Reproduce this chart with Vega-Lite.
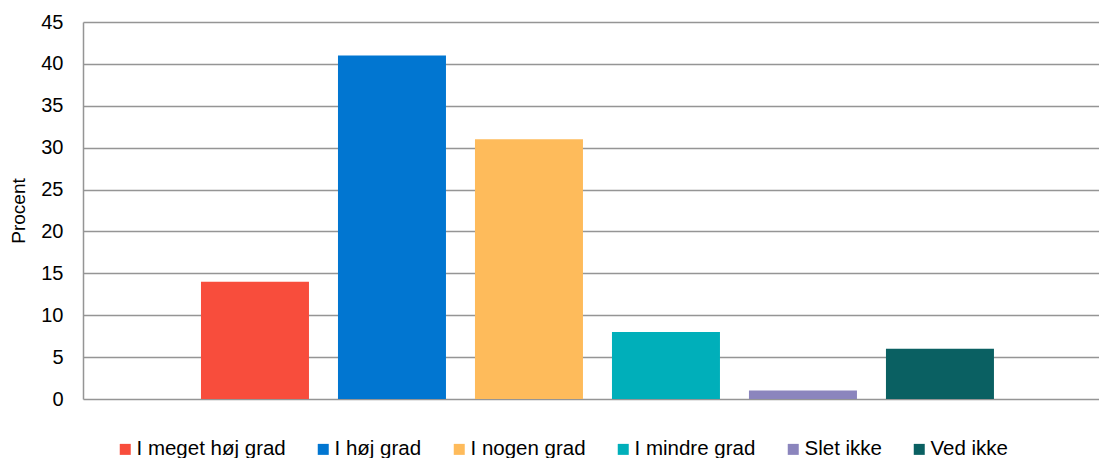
{
  "$schema": "https://vega.github.io/schema/vega-lite/v6.json",
  "width": 1016,
  "height": 377,
  "autosize": {"type": "none"},
  "padding": {"left": 83, "top": 22, "right": 0, "bottom": 59},
  "background": "white",
  "data": {
    "values": [
      {"kategori": "I meget høj grad", "procent": 14},
      {"kategori": "I høj grad", "procent": 41},
      {"kategori": "I nogen grad", "procent": 31},
      {"kategori": "I mindre grad", "procent": 8},
      {"kategori": "Slet ikke", "procent": 1},
      {"kategori": "Ved ikke", "procent": 6}
    ]
  },
  "mark": {"type": "bar"},
  "encoding": {
    "x": {
      "field": "kategori",
      "type": "nominal",
      "sort": null,
      "axis": null,
      "scale": {"paddingInner": 0.2117, "paddingOuter": 0.814, "align": 0.529}
    },
    "y": {
      "field": "procent",
      "type": "quantitative",
      "scale": {"domain": [0, 45], "nice": false},
      "axis": {
        "values": [0, 5, 10, 15, 20, 25, 30, 35, 40, 45],
        "title": "Procent",
        "labelPadding": 20,
        "titlePadding": 12,
        "ticks": false,
        "domain": true
      }
    },
    "color": {
      "field": "kategori",
      "type": "nominal",
      "sort": null,
      "scale": {
        "domain": ["I meget høj grad", "I høj grad", "I nogen grad", "I mindre grad", "Slet ikke", "Ved ikke"],
        "range": ["#F84D3C", "#0176D1", "#FEBB5B", "#00AFBA", "#8B85BD", "#0A6062"]
      },
      "legend": {
        "orient": "none",
        "legendX": 32,
        "legendY": 417,
        "direction": "horizontal",
        "columns": 6,
        "columnPadding": 27,
        "title": null,
        "symbolType": "square",
        "symbolSize": 121,
        "symbolStrokeWidth": 0,
        "symbolOpacity": 1,
        "labelOffset": 1,
        "labelFont": "Liberation Sans",
        "labelFontSize": 20.5,
        "labelColor": "#000000",
        "labelLimit": 400
      }
    }
  },
  "config": {
    "view": {"stroke": null},
    "axis": {
      "gridColor": "#959595",
      "gridWidth": 1.5,
      "gridOpacity": 1,
      "domainColor": "#959595",
      "domainWidth": 1.5,
      "labelFont": "Liberation Sans",
      "labelFontSize": 20,
      "labelColor": "#000000",
      "titleFont": "Liberation Sans",
      "titleFontSize": 19,
      "titleFontWeight": "normal",
      "titleColor": "#000000"
    }
  }
}
